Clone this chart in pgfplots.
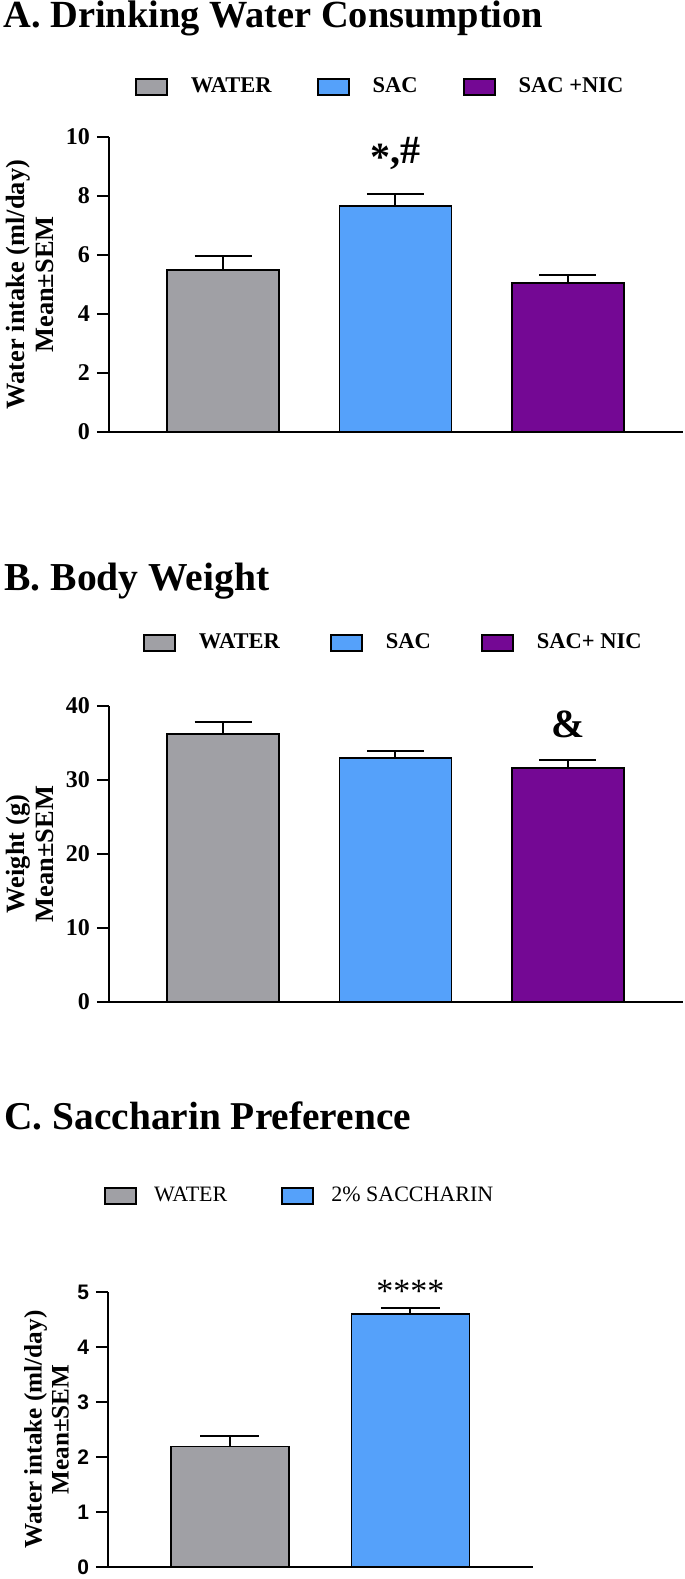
\documentclass[border=0pt]{standalone}
\usepackage{fontspec}
\setmainfont{Liberation Serif}
\newfontfamily\sansfont{Liberation Sans}
\usepackage{pgfplots}
\pgfplotsset{compat=1.18}

\definecolor{cgray}{RGB}{160,160,165}
\definecolor{cblue}{RGB}{85,161,250}
\definecolor{cpurple}{RGB}{116,8,148}

\pgfplotsset{
  panel/.style={
    scale only axis,
    axis x line=bottom, axis y line=left,
    axis line style={-, line width=1.2pt, black},
    xtick=\empty,
    ymin=0,
    tick align=outside,
    major tick length=6pt,
    ytick style={line width=1.2pt, black},
    /pgf/number format/assume math mode=true,
    clip=false,
    legend columns=3,
    legend image code/.code={\draw[##1, line width=1pt] (0pt,-4pt) rectangle (15.5pt,4pt);},
    legend style={draw=none, fill=none, inner sep=0pt, outer sep=0pt, anchor=west,
      nodes={inner sep=0pt, anchor=west}},
  },
  barplot/.style={ybar, bar shift=0pt, draw=black, line width=0.9pt, fill=#1,
    error bars/y dir=plus, error bars/y explicit,
    error bars/error bar style={line width=1pt, black},
    error bars/error mark options={rotate=90, mark size=14.25pt, line width=1pt, black}},
}

\begin{document}
\begin{tikzpicture}
\useasboundingbox (0,0) rectangle (342.5pt,-789.5pt);

% ---------- Panel A ----------
\node[anchor=base west, inner sep=0, font=\fontsize{19.2}{22}\selectfont\bfseries] at (1.5pt,-13.5pt) {A. Drinking Water Consumption};
\begin{axis}[panel, at={(54.5pt,-216pt)}, anchor=south west, width=287pt, height=147.5pt,
  xmin=-0.661, xmax=2.667, ymax=10, ytick={0,2,4,6,8,10},
  bar width=0.649,
  yticklabel style={font=\fontsize{12}{14}\selectfont\bfseries},
  ylabel={Water intake (ml/day)\\Mean±SEM},
  ylabel style={at={(axis description cs:-0.1385,0.5)}, anchor=center, align=center,
    font=\fontsize{13.2}{14.5}\selectfont\bfseries},
  legend style={at={(axis description cs:0.045,1.1695)},
    /tikz/every odd column/.append style={column sep=11.5pt},
    /tikz/every even column/.append style={column sep=22.5pt},
    font=\fontsize{11.25}{13}\selectfont\bfseries},
]
\addplot[barplot=cgray] coordinates {(0,5.48) +- (0,0.50)};
\addlegendentry{WATER}
\addplot[barplot=cblue] coordinates {(1,7.65) +- (0,0.43)};
\addlegendentry{SAC}
\addplot[barplot=cpurple] coordinates {(2,5.05) +- (0,0.27)};
\addlegendentry{SAC +NIC}
\node[anchor=north, inner sep=0pt, font=\fontsize{20}{24}\selectfont\bfseries] at (axis cs:1,10.0) {\raisebox{-0.35ex}{*},\#};
\end{axis}

% ---------- Panel B ----------
\node[anchor=base west, inner sep=0, font=\fontsize{19.8}{22}\selectfont\bfseries] at (2pt,-295pt) {B. Body Weight};
\begin{axis}[panel, at={(54.5pt,-501pt)}, anchor=south west, width=287pt, height=148pt,
  xmin=-0.661, xmax=2.667, ymax=40, ytick={0,10,20,30,40},
  bar width=0.649,
  yticklabel style={font=\fontsize{12}{14}\selectfont\bfseries},
  ylabel={Weight (g)\\Mean±SEM},
  ylabel style={at={(axis description cs:-0.1385,0.5)}, anchor=center, align=center,
    font=\fontsize{13.2}{14.5}\selectfont\bfseries},
  legend style={at={(axis description cs:0.0592,1.2128)},
    /tikz/every odd column/.append style={column sep=11.5pt},
    /tikz/every even column/.append style={column sep=25pt},
    font=\fontsize{11.25}{13}\selectfont\bfseries},
]
\addplot[barplot=cgray] coordinates {(0,36.2) +- (0,1.6)};
\addlegendentry{WATER}
\addplot[barplot=cblue] coordinates {(1,33.0) +- (0,0.95)};
\addlegendentry{SAC}
\addplot[barplot=cpurple] coordinates {(2,31.6) +- (0,1.1)};
\addlegendentry{SAC+ NIC}
\node[anchor=north, inner sep=0pt, font=\fontsize{20}{24}\selectfont\bfseries] at (axis cs:2,39.46) {\&};
\end{axis}

% ---------- Panel C ----------
\node[anchor=base west, inner sep=0, font=\fontsize{19.7}{22}\selectfont\bfseries] at (2pt,-564.5pt) {C. Saccharin Preference};
\begin{axis}[panel, at={(54pt,-783.5pt)}, anchor=south west, width=212.5pt, height=137.5pt,
  xmin=-0.676, xmax=1.679, ymax=5, ytick={0,1,2,3,4,5},
  bar width=0.654,
  yticklabel style={font=\sansfont\fontsize{10.5}{12}\selectfont\bfseries},
  ylabel={Water intake (ml/day)\\Mean±SEM},
  ylabel style={at={(axis description cs:-0.1447,0.5)}, anchor=center, align=center,
    font=\fontsize{12.6}{13.5}\selectfont\bfseries},
  legend style={at={(axis description cs:-0.0094,1.35)},
    /tikz/every odd column/.append style={column sep=8.5pt},
    /tikz/every even column/.append style={column sep=27pt},
    font=\fontsize{11}{13}\selectfont},
]
\addplot[barplot=cgray, error bars/error mark options={rotate=90, mark size=14.75pt, line width=1pt, black}] coordinates {(0,2.19) +- (0,0.20)};
\addlegendentry{WATER}
\addplot[barplot=cblue, error bars/error mark options={rotate=90, mark size=14.75pt, line width=1pt, black}] coordinates {(1,4.60) +- (0,0.11)};
\addlegendentry{2\% SACCHARIN}
\node[anchor=north, inner sep=0pt, font=\fontsize{17}{20}\selectfont] at (axis cs:1,5.23) {****};
\end{axis}
\end{tikzpicture}
\end{document}
